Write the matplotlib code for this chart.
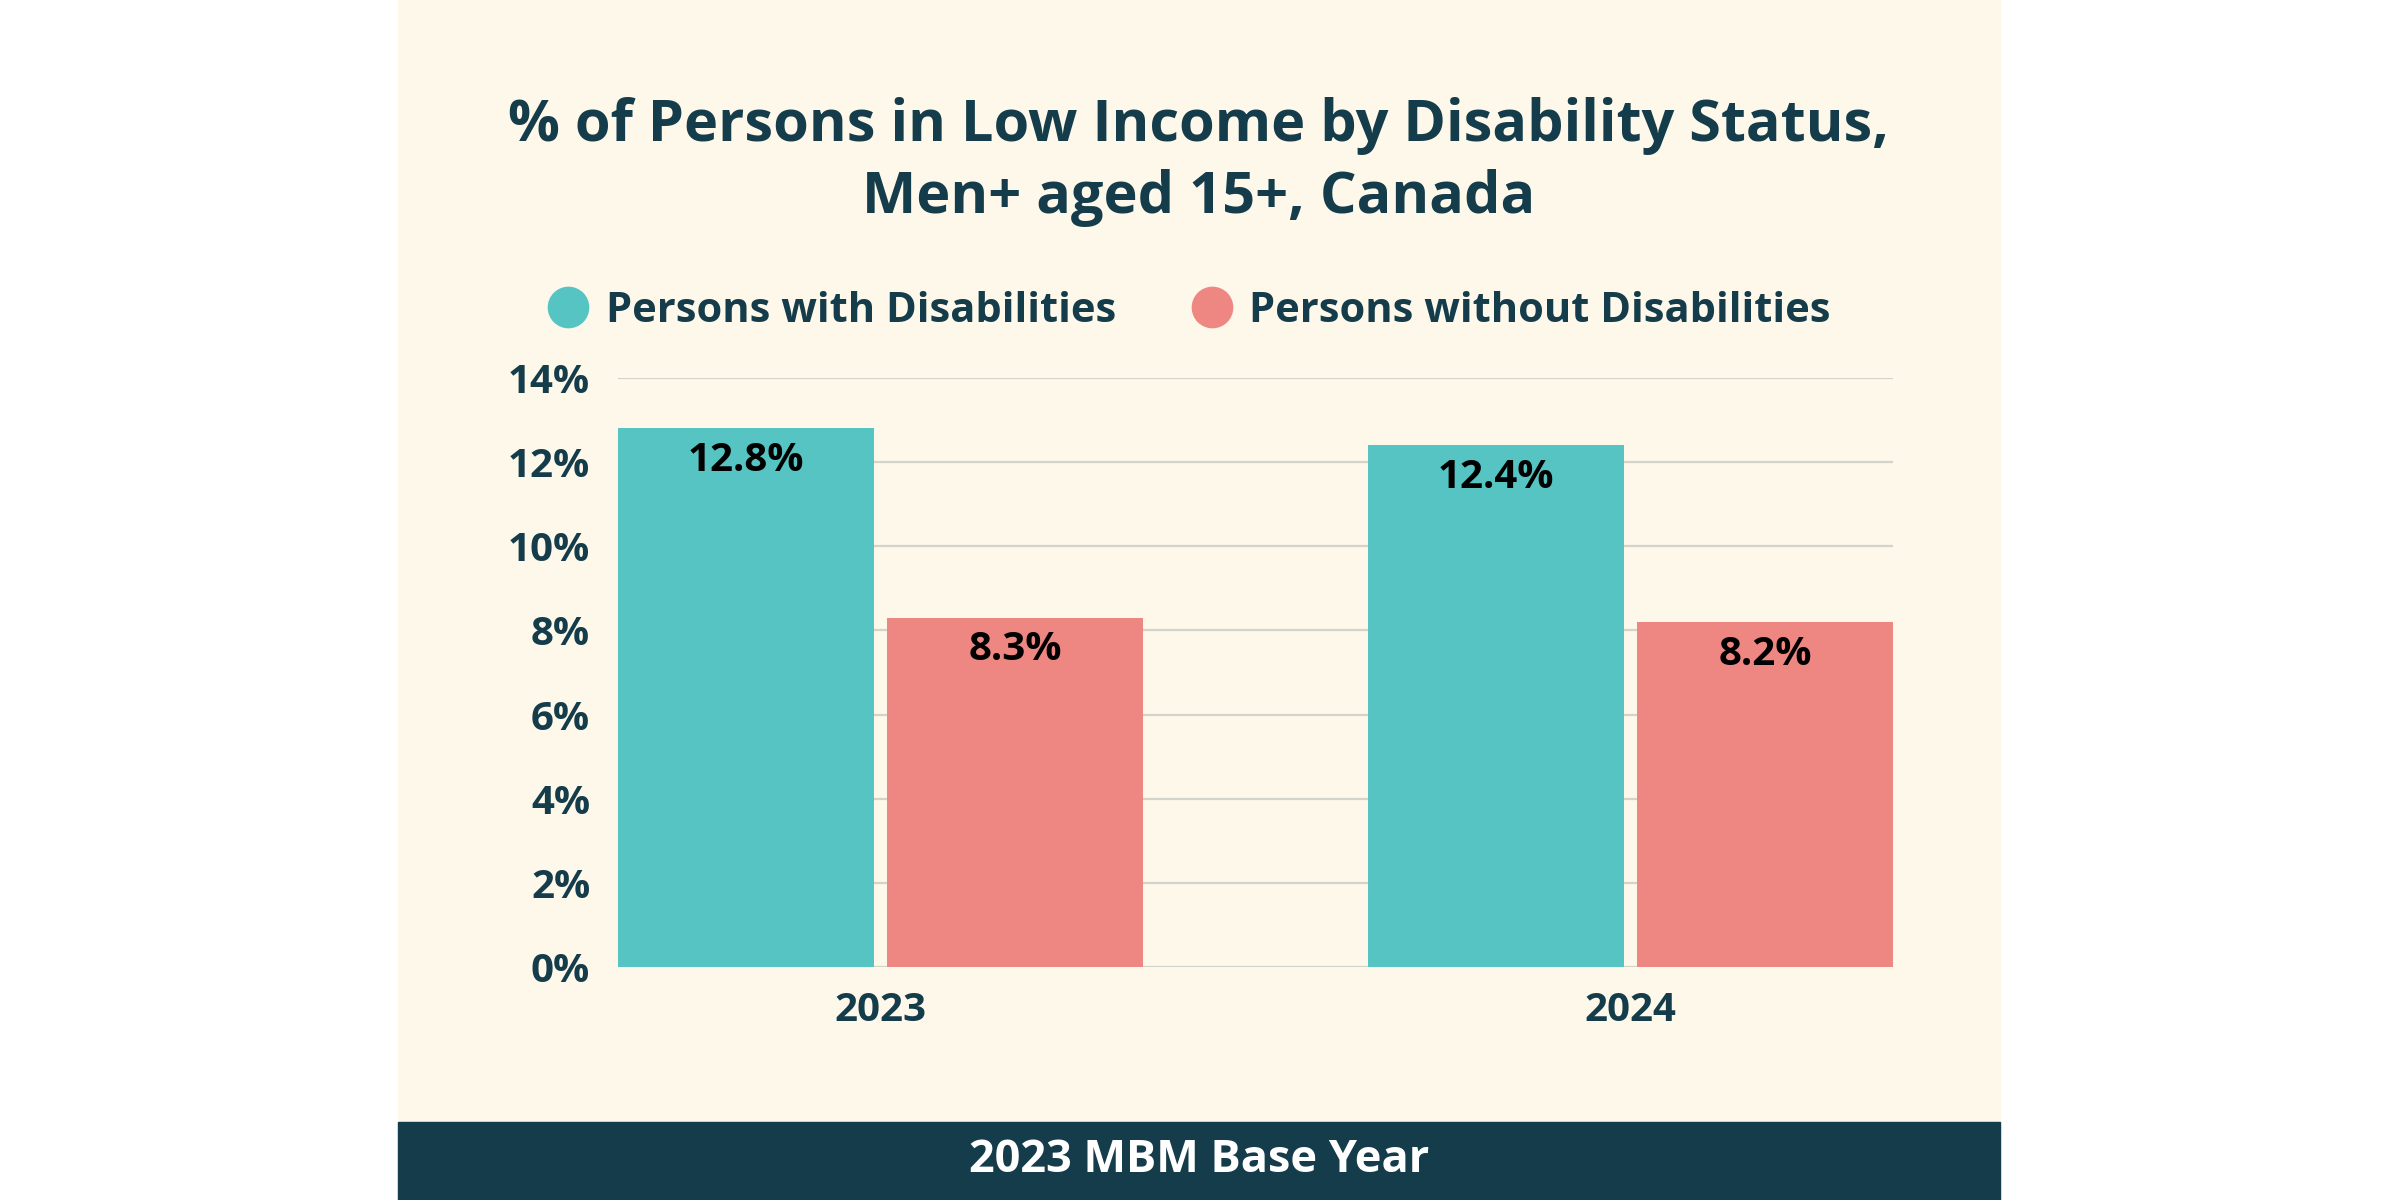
import matplotlib
matplotlib.use("Agg")
from matplotlib import pyplot as plt
from matplotlib.lines import Line2D
from matplotlib.patches import Rectangle
import numpy as np

years = ["2023", "2024"]
with_dis = [12.8, 12.4]
without_dis = [8.3, 8.2]
series_names = ["Persons with Disabilities", "Persons without Disabilities"]
y_ticks = [0, 2, 4, 6, 8, 10, 12, 14]

title = "% of Persons in Low Income by Disability Status,\nMen+ aged 15+, Canada"
footer = "2023 MBM Base Year"

teal = "#57C4C4"
pink = "#EE8781"
navy = "#143C4A"
cream = "#FDF8E9"

plt.rcParams['font.family'] = ['Open Sans', 'DejaVu Sans']
plt.rcParams['font.weight'] = 'bold'

fig = plt.figure(figsize=(24, 12), dpi=100)
fig.patch.set_facecolor("white")

# cream panel and dark footer band
fig.patches.append(Rectangle((398 / 2400, 1 - 1122 / 1200), 1602 / 2400, 1122 / 1200,
                             transform=fig.transFigure, color=cream, zorder=-2))
fig.patches.append(Rectangle((398 / 2400, 0), 1602 / 2400, 78 / 1200,
                             transform=fig.transFigure, color=navy, zorder=-2))

ax = fig.add_axes([618 / 2400, 1 - 967 / 1200, 1275 / 2400, 589 / 1200])
ax.set_facecolor("none")
ax.set_zorder(2)

x = np.arange(len(years))
w = 0.341
off = w / 2 + 0.009
b1 = ax.bar(x - off, with_dis, w, color=teal, zorder=2)
b2 = ax.bar(x + off, without_dis, w, color=pink, zorder=2)

for bars, vals in [(b1, with_dis), (b2, without_dis)]:
    for r, v in zip(bars, vals):
        ax.annotate(f"{v}%", (r.get_x() + r.get_width() / 2, v), xytext=(0, -9),
                    textcoords="offset points", ha="center", va="top",
                    fontsize=29, fontweight="bold", color="black", zorder=3)

ax.set_xlim(-0.35, 1.35)
ax.set_ylim(0, 14)
ax.set_yticks(y_ticks)
ax.set_yticklabels([f"{t}%" for t in y_ticks])
ax.set_xticks(x)
ax.set_xticklabels(years)
ax.tick_params(length=0, labelsize=29, labelcolor=navy)
ax.tick_params(axis="y", pad=20)
ax.tick_params(axis="x", pad=17)
ax.grid(axis="y", color="#D2D3CA", linewidth=1.6, zorder=1)
for s in ax.spines.values():
    s.set_visible(False)
ax.axhline(0, color="#8FA3A3", linewidth=1.2, zorder=1)

fig.text(1199 / 2400, 1 - 162 / 1200, title, ha="center", va="center",
         fontsize=41.5, fontweight="bold", color=navy, linespacing=1.3)

handles = [Line2D([], [], marker="o", linestyle="none", markersize=29, color=c)
           for c in (teal, pink)]
fig.legend(handles, series_names, loc="center", bbox_to_anchor=(1189 / 2400, 1 - 311 / 1200),
           ncol=2, frameon=False, labelcolor=navy, handletextpad=0.4,
           columnspacing=1.8, handlelength=1.0, prop={'weight': 'bold', 'size': 30})

fig.text(1199 / 2400, 1 - 1161 / 1200, footer, ha="center", va="center",
         fontsize=32.5, fontweight="bold", color="white")

fig.savefig("out.png", dpi=100, facecolor=fig.get_facecolor())
